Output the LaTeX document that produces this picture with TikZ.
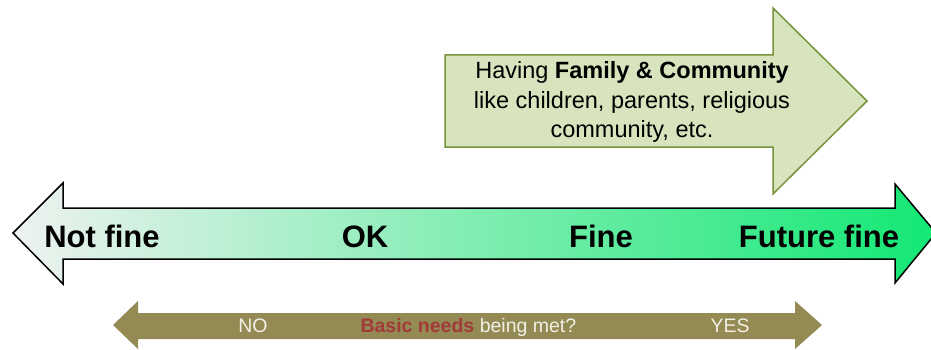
\documentclass[tikz,border=0pt]{standalone}
\usepackage{fontspec}
\setmainfont{Liberation Sans}
\usepackage{tikz}
\definecolor{leafgreen}{HTML}{D7E4BD}
\definecolor{leafedge}{HTML}{77933C}
\definecolor{olivebar}{HTML}{948A54}
\definecolor{needred}{HTML}{A33A3A}
\definecolor{paletext}{HTML}{F2F0E6}
\definecolor{fadewhite}{HTML}{EEF2F0}
\definecolor{brightgreen}{HTML}{12E874}
\tikzset{
	scalelabel/.style={font=\fontsize{31}{37}\selectfont\bfseries, anchor=base},
	needlabel/.style={font=\fontsize{19.5}{23}\selectfont, text=paletext, anchor=base},
}

\begin{document}
\begin{tikzpicture}[x=1pt, y=-1pt]
			%%%%% START %%%%%
			\useasboundingbox (0, 0) rectangle (931, 350);
			
			% family and community arrow
			\draw[line width=1.5pt, color=leafedge, fill=leafgreen, line join=miter] (445, 55) -- (773, 55) -- (773, 8) -- (867, 101) -- (773, 194) -- (773, 147) -- (445, 147) -- cycle;
			\node[font=\fontsize{23.5}{29.5}\selectfont, align=center] (family) at (632, 102) {Having \textbf{Family \& Community}\\like children, parents, religious\\community, etc.};
			
			% main scale
			\draw[line width=1.5pt, line join=miter, left color=fadewhite, right color=brightgreen] (13, 233) -- (63, 183) -- (63, 208) -- (895, 208) -- (895, 184) -- (936, 233) -- (895, 283) -- (895, 259) -- (63, 259) -- (63, 284) -- cycle;
			\node[scalelabel] (notfine) at (102, 247) {Not fine};
			\node[scalelabel] (ok) at (365, 247) {OK};
			\node[scalelabel] (fine) at (601, 247) {Fine};
			\node[scalelabel] (futurefine) at (819, 247) {Future fine};
			
			% basic needs
			\fill[olivebar] (113, 325) -- (138, 301) -- (138, 313) -- (795, 313) -- (795, 301) -- (822, 325) -- (795, 349) -- (795, 339) -- (138, 339) -- (138, 349) -- cycle;
			\node[needlabel] (no) at (253, 332) {NO};
			\node[needlabel, anchor=base west] (question) at (357, 332) {\textcolor{needred}{\textbf{Basic needs}} being met?};
			\node[needlabel] (yes) at (730, 332) {YES};
			
			%%%%% END %%%%%
\end{tikzpicture}
\end{document}
